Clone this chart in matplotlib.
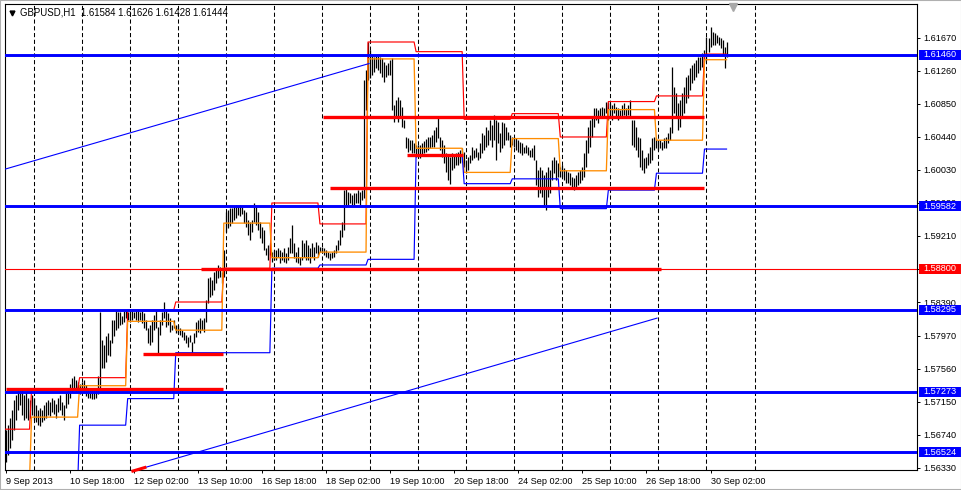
import numpy as np
import matplotlib
matplotlib.use("Agg")
import matplotlib.pyplot as plt
from matplotlib.patches import Rectangle
from matplotlib.transforms import blended_transform_factory

plt.rcParams['font.family'] = ['Liberation Sans', 'DejaVu Sans']

header = "GBPUSD,H1  1.61584 1.61626 1.61428 1.61444"

# H1 bars, 9 Sep 2013 10:00 .. 30 Sep 2013 10:00 (one list row per trading day)
bar_high = [
    1.5680, 1.5686, 1.5695, 1.5705, 1.5717, 1.5723, 1.5732, 1.5732, 1.5730, 1.5723, 1.5727, 1.5720, 1.5717, 1.5723,
    1.5720, 1.5711, 1.5705, 1.5707, 1.5705, 1.5711, 1.5715, 1.5717, 1.5715, 1.5720, 1.5717, 1.5712, 1.5720, 1.5723, 1.5715, 1.5711, 1.5727, 1.5732, 1.5737, 1.5744, 1.5747, 1.5742, 1.5739, 1.5737,
    1.5739, 1.5742, 1.5736, 1.5732, 1.5730, 1.5732, 1.5730, 1.5730, 1.5747, 1.5827, 1.5792, 1.5786, 1.5797, 1.5800, 1.5792, 1.5817, 1.5817, 1.5829, 1.5827, 1.5827, 1.5822, 1.5828, 1.5829, 1.5827,
    1.5830, 1.5829, 1.5827, 1.5829, 1.5829, 1.5827, 1.5829, 1.5825, 1.5817, 1.5807, 1.5810, 1.5817, 1.5823, 1.5829, 1.5808, 1.5817, 1.5827, 1.5839, 1.5829, 1.5825, 1.5819, 1.5810, 1.5817, 1.5810,
    1.5810, 1.5807, 1.5804, 1.5802, 1.5798, 1.5795, 1.5798, 1.5789, 1.5800, 1.5814, 1.5817, 1.5819, 1.5817, 1.5819, 1.5841, 1.5869, 1.5870, 1.5866, 1.5876, 1.5881, 1.5885, 1.5882, 1.5876, 1.5904,
    1.5951, 1.5953, 1.5956, 1.5956, 1.5958, 1.5959, 1.5958, 1.5959, 1.5957, 1.5953, 1.5951, 1.5941, 1.5938, 1.5941, 1.5962, 1.5959, 1.5951, 1.5938, 1.5932, 1.5928, 1.5906, 1.5910, 1.5912, 1.5901,
    1.5904, 1.5904, 1.5906, 1.5904, 1.5901, 1.5906, 1.5900, 1.5907, 1.5918, 1.5935, 1.5912, 1.5901, 1.5907, 1.5895, 1.5916, 1.5912, 1.5916, 1.5910, 1.5906, 1.5912, 1.5907, 1.5914, 1.5910, 1.5907,
    1.5907, 1.5906, 1.5904, 1.5901, 1.5900, 1.5901, 1.5904, 1.5910, 1.5916, 1.5928, 1.5938, 1.5978, 1.5981, 1.5976, 1.5974, 1.5972, 1.5974, 1.5974, 1.5978, 1.5976, 1.5978, 1.6115, 1.6127, 1.6162,
    1.6152, 1.6146, 1.6143, 1.6146, 1.6146, 1.6143, 1.6142, 1.6137, 1.6133, 1.6136, 1.6140, 1.6142, 1.6084, 1.6090, 1.6094, 1.6090, 1.6081, 1.6065, 1.6044, 1.6043, 1.6040, 1.6040, 1.6037, 1.6034,
    1.6034, 1.6034, 1.6037, 1.6039, 1.6041, 1.6044, 1.6044, 1.6046, 1.6053, 1.6056, 1.6068, 1.6044, 1.6040, 1.6034, 1.6024, 1.6022, 1.6019, 1.6024, 1.6022, 1.6024, 1.6025, 1.6028, 1.6030, 1.6025,
    1.6015, 1.6019, 1.6022, 1.6032, 1.6028, 1.6030, 1.6025, 1.6037, 1.6049, 1.6046, 1.6056, 1.6053, 1.6065, 1.6059, 1.6071, 1.6065, 1.6063, 1.6049, 1.6063, 1.6061, 1.6056, 1.6050, 1.6046, 1.6044,
    1.6044, 1.6043, 1.6040, 1.6038, 1.6037, 1.6032, 1.6034, 1.6032, 1.6028, 1.6030, 1.6034, 1.6015, 1.6003, 1.6007, 1.6003, 1.5997, 1.6000, 1.6007, 1.6003, 1.6015, 1.6019, 1.6015, 1.6012, 1.6007,
    1.6009, 1.6005, 1.6003, 1.6000, 1.5999, 1.5994, 1.5993, 1.5997, 1.6000, 1.6003, 1.6007, 1.6024, 1.6040, 1.6056, 1.6065, 1.6069, 1.6080, 1.6080, 1.6078, 1.6080, 1.6081, 1.6080, 1.6087, 1.6087,
    1.6086, 1.6084, 1.6086, 1.6081, 1.6080, 1.6078, 1.6084, 1.6086, 1.6080, 1.6084, 1.6090, 1.6065, 1.6065, 1.6056, 1.6044, 1.6043, 1.6028, 1.6018, 1.6019, 1.6024, 1.6032, 1.6043, 1.6044, 1.6043,
    1.6040, 1.6040, 1.6038, 1.6043, 1.6044, 1.6049, 1.6056, 1.6131, 1.6106, 1.6099, 1.6086, 1.6090, 1.6099, 1.6106, 1.6119, 1.6121, 1.6130, 1.6133, 1.6136, 1.6140, 1.6143, 1.6143, 1.6148, 1.6152,
    1.6168, 1.6167, 1.6181, 1.6174, 1.6173, 1.6171, 1.6168, 1.6167, 1.6165, 1.6156, 1.61626,
]
bar_low = [
    1.5640, 1.5649, 1.5658, 1.5667, 1.5680, 1.5692, 1.5705, 1.5711, 1.5699, 1.5692, 1.5695, 1.5692, 1.5695, 1.5699,
    1.5692, 1.5690, 1.5686, 1.5685, 1.5690, 1.5692, 1.5695, 1.5699, 1.5697, 1.5702, 1.5700, 1.5695, 1.5702, 1.5705, 1.5699, 1.5692, 1.5707, 1.5712, 1.5720, 1.5727, 1.5730, 1.5727, 1.5727, 1.5725,
    1.5730, 1.5727, 1.5722, 1.5720, 1.5720, 1.5719, 1.5719, 1.5720, 1.5725, 1.5732, 1.5757, 1.5757, 1.5764, 1.5773, 1.5772, 1.5788, 1.5797, 1.5804, 1.5807, 1.5810, 1.5812, 1.5814, 1.5819, 1.5817,
    1.5814, 1.5817, 1.5819, 1.5817, 1.5814, 1.5817, 1.5813, 1.5807, 1.5804, 1.5788, 1.5786, 1.5789, 1.5804, 1.5807, 1.5776, 1.5798, 1.5810, 1.5819, 1.5808, 1.5810, 1.5802, 1.5804, 1.5807, 1.5800,
    1.5800, 1.5798, 1.5795, 1.5792, 1.5788, 1.5783, 1.5789, 1.5776, 1.5788, 1.5795, 1.5802, 1.5800, 1.5804, 1.5802, 1.5814, 1.5838, 1.5845, 1.5848, 1.5854, 1.5863, 1.5869, 1.5870, 1.5863, 1.5870,
    1.5926, 1.5931, 1.5933, 1.5937, 1.5941, 1.5943, 1.5947, 1.5946, 1.5948, 1.5937, 1.5932, 1.5922, 1.5916, 1.5926, 1.5938, 1.5935, 1.5928, 1.5918, 1.5912, 1.5904, 1.5897, 1.5891, 1.5897, 1.5889,
    1.5891, 1.5891, 1.5895, 1.5887, 1.5891, 1.5889, 1.5887, 1.5891, 1.5900, 1.5900, 1.5894, 1.5889, 1.5887, 1.5885, 1.5891, 1.5895, 1.5891, 1.5891, 1.5887, 1.5895, 1.5891, 1.5900, 1.5895, 1.5901,
    1.5901, 1.5897, 1.5895, 1.5894, 1.5891, 1.5894, 1.5895, 1.5900, 1.5904, 1.5910, 1.5920, 1.5928, 1.5957, 1.5959, 1.5962, 1.5959, 1.5959, 1.5962, 1.5962, 1.5959, 1.5966, 1.5968, 1.6078, 1.6115,
    1.6117, 1.6121, 1.6125, 1.6130, 1.6127, 1.6124, 1.6119, 1.6112, 1.6119, 1.6121, 1.6121, 1.6078, 1.6063, 1.6069, 1.6063, 1.6068, 1.6056, 1.6055, 1.6030, 1.6025, 1.6028, 1.6024, 1.6024, 1.6019,
    1.6019, 1.6018, 1.6020, 1.6024, 1.6025, 1.6028, 1.6030, 1.6032, 1.6032, 1.6038, 1.6043, 1.6028, 1.6019, 1.6012, 1.6000, 1.5991, 1.5986, 1.6003, 1.6005, 1.6009, 1.6009, 1.6012, 1.6013, 1.6007,
    1.5999, 1.6003, 1.6012, 1.6015, 1.6018, 1.6019, 1.6015, 1.6018, 1.6024, 1.6028, 1.6032, 1.6034, 1.6040, 1.6032, 1.6040, 1.6015, 1.6037, 1.6025, 1.6030, 1.6034, 1.6040, 1.6040, 1.6032, 1.6034,
    1.6032, 1.6028, 1.6025, 1.6024, 1.6022, 1.6024, 1.6024, 1.6022, 1.6019, 1.6019, 1.6015, 1.5984, 1.5969, 1.5974, 1.5969, 1.5957, 1.5953, 1.5969, 1.5974, 1.5991, 1.5999, 1.5991, 1.5994, 1.5994,
    1.5994, 1.5991, 1.5987, 1.5987, 1.5984, 1.5982, 1.5978, 1.5982, 1.5984, 1.5987, 1.5991, 1.5994, 1.6007, 1.6024, 1.6032, 1.6044, 1.6056, 1.6065, 1.6061, 1.6068, 1.6069, 1.6069, 1.6074, 1.6065,
    1.6069, 1.6065, 1.6074, 1.6069, 1.6065, 1.6068, 1.6069, 1.6071, 1.6069, 1.6071, 1.6069, 1.6034, 1.6032, 1.6028, 1.6019, 1.6007, 1.6003, 1.5999, 1.6005, 1.6009, 1.6012, 1.6015, 1.6028, 1.6030,
    1.6028, 1.6030, 1.6028, 1.6030, 1.6030, 1.6037, 1.6040, 1.6049, 1.6074, 1.6069, 1.6053, 1.6056, 1.6069, 1.6074, 1.6086, 1.6092, 1.6102, 1.6111, 1.6115, 1.6119, 1.6124, 1.6127, 1.6131, 1.6137,
    1.6140, 1.6150, 1.6156, 1.6158, 1.6158, 1.6161, 1.6158, 1.6155, 1.6146, 1.6130, 1.61428,
]

# first bar of each trading day and the daily indicator levels
day_start = [0, 14, 38, 62, 86, 110, 134, 158, 182, 206, 230, 254, 278, 302, 326, 350]
separators = [14, 38, 62, 86, 110, 134, 158, 182, 206, 230, 254, 278, 302, 326, 350, 374]
day_red = [1.5681, 1.5730, 1.5745, 1.5829, 1.5839, 1.5881, 1.5962, 1.5936, 1.6162, 1.6150,
           1.6066, 1.6073, 1.6044, 1.6088, 1.6095, 1.6147]
day_orange = [1.5618, 1.5696, 1.5735, 1.5815, 1.5804, 1.5937, 1.5894, 1.5901, 1.6141, 1.6030,
              1.6000, 1.6042, 1.6002, 1.6078, 1.6040, 1.6140]
day_blue = [1.5610, 1.5610, 1.5686, 1.5719, 1.5776, 1.5776, 1.5881, 1.5885, 1.5892, 1.6022,
            1.5986, 1.5992, 1.5955, 1.5978, 1.5999, 1.6029]

# drawn objects
blue_levels = [1.61460, 1.59582, 1.58295, 1.57273, 1.56524]
red_level = 1.58800
bid_price = 1.61444
red_segments = [  # (from bar, to bar, price)
    (97.6, 327.3, 1.58800),
    (158.5, 348.7, 1.60692),
    (162.0, 348.7, 1.59810),
    (200.4, 228.4, 1.60216),
    (68.6, 108.6, 1.57748),
    (0.2, 108.6, 1.57315),
]
channel_top = ([-0.3, 181.5], [1.6004, 1.61352])
channel_bottom = ([63.6, 325.3], [1.5629, 1.5819])
channel_mark = ([63.6, 69.6], [1.5629, 1.56334])

x_tick_bars = [0, 32, 64, 96, 128, 160, 192, 224, 256, 288, 320, 352]
x_tick_labels = ["9 Sep 2013", "10 Sep 18:00", "12 Sep 02:00", "13 Sep 10:00", "16 Sep 18:00",
                 "18 Sep 02:00", "19 Sep 10:00", "20 Sep 18:00", "24 Sep 02:00", "25 Sep 10:00",
                 "26 Sep 18:00", "30 Sep 02:00"]
y_ticks = [1.6167, 1.6126, 1.6085, 1.6044, 1.6003, 1.5962, 1.5921, 1.5880, 1.5839, 1.5797,
           1.5756, 1.5715, 1.5674, 1.5633]

BLUE, RED, ORANGE = '#0000FF', '#FF0000', '#FF8C00'
FS = 6.6

n = len(bar_high)
assert n == len(bar_low) == 361
bars = np.arange(n)

fig = plt.figure(figsize=(9.62, 4.90), dpi=100)
ax = fig.add_axes([5 / 962, 20 / 490, 912 / 962, 466 / 490])
ax.set_xlim(-0.25, 455.1)
ax.set_ylim(1.56303, 1.62092)

# period separators
for s in separators:
    ax.axvline(s, color='black', lw=0.75, ls=(0, (4, 2.5)), zorder=1)

# price bars
ax.vlines(bars, bar_low, bar_high, color='black', lw=0.9, zorder=2)

# daily indicator lines (value switches one bar before the new day)
day_idx = np.searchsorted(day_start, bars + 1, side='right') - 1
ax.plot(bars, np.array(day_red)[day_idx], color=RED, lw=0.85, zorder=3)
ax.plot(bars, np.array(day_orange)[day_idx], color=ORANGE, lw=0.95, zorder=3)
ax.plot(bars, np.array(day_blue)[day_idx], color=BLUE, lw=0.85, zorder=3)

# bid line and objects
ax.axhline(bid_price, color='#C0C0C0', lw=1.3, zorder=3)
ax.axhline(red_level, color=RED, lw=0.8, zorder=4)
for b0, b1, p in red_segments:
    ax.plot([b0, b1], [p, p], color=RED, lw=2.4, solid_capstyle='butt', zorder=4)
for p in blue_levels:
    ax.axhline(p, color=BLUE, lw=2.1, zorder=5)
ax.plot(*channel_top, color=BLUE, lw=0.8, zorder=4)
ax.plot(*channel_bottom, color=BLUE, lw=0.8, zorder=4)
ax.plot(*channel_mark, color=RED, lw=2.2, zorder=4, clip_on=False)

# axes styling
for sp in ax.spines.values():
    sp.set_linewidth(0.8)
ax.yaxis.tick_right()
ax.set_yticks(y_ticks)
ax.set_yticklabels(["%.5f" % v for v in y_ticks])
ax.set_xticks(x_tick_bars)
ax.set_xticklabels(x_tick_labels)
for lbl in ax.get_xticklabels():
    lbl.set_horizontalalignment('left')
ax.tick_params(axis='both', labelsize=FS, length=2.2, width=0.7, color='black', pad=2.4)
ax.tick_params(axis='x', pad=3.0)

# price labels of the horizontal lines
tr = blended_transform_factory(ax.transAxes, ax.transData)
box_h = 0.00125
for p, c in [(bp, BLUE) for bp in blue_levels] + [(red_level, RED)]:
    ax.add_patch(Rectangle((1.0022, p - box_h / 2), 0.0462, box_h, transform=tr,
                           facecolor=c, edgecolor='none', clip_on=False, zorder=6))
    ax.text(1.0066, p, "%.5f" % p, transform=tr, color='white', fontsize=FS,
            va='center', ha='left', zorder=7, clip_on=False)

# header and chart-shift marker
ax.plot([0.0077], [0.9807], marker='v', color='black', ms=3.5, transform=ax.transAxes,
        clip_on=False, zorder=7)
ax.text(0.0165, 0.9807, header, transform=ax.transAxes, fontsize=FS + 0.3,
        va='center', ha='left', zorder=7)
ax.plot([0.798], [0.994], marker='v', color='#A8A8A8', ms=6, transform=ax.transAxes,
        clip_on=False, zorder=7)

fig.patches.append(Rectangle((0, 0), 1, 1, transform=fig.transFigure, fill=False,
                             edgecolor='#B0B0B0', lw=1.5))

fig.savefig("out.png", dpi=100)
